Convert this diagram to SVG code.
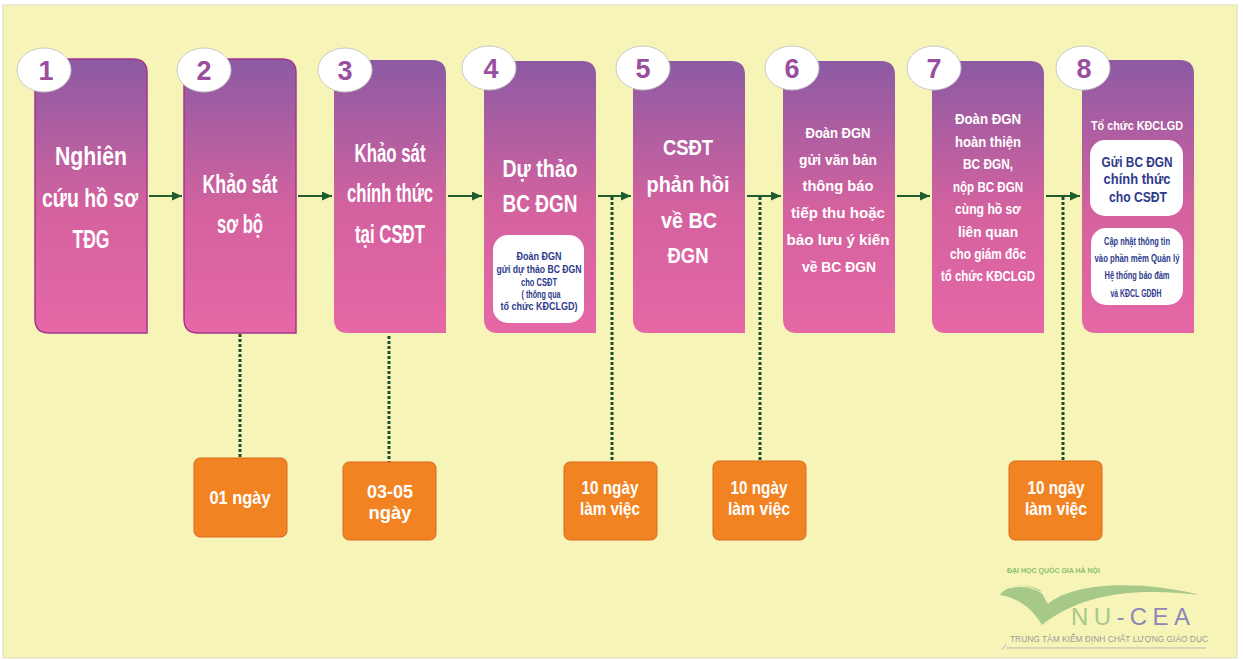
<svg xmlns="http://www.w3.org/2000/svg" width="1243" height="660" viewBox="0 0 1243 660">
<defs>
<linearGradient id="boxg" x1="0" y1="0" x2="0" y2="1">
<stop offset="0" stop-color="#8C5AA3"/>
<stop offset="0.55" stop-color="#D4629F"/>
<stop offset="1" stop-color="#E667A6"/>
</linearGradient>
<marker id="ah" viewBox="0 0 10 9" refX="10" refY="4.5" markerWidth="10" markerHeight="9" markerUnits="userSpaceOnUse" orient="auto">
<path d="M0,0 L10,4.5 L0,9 Z" fill="#1F5C2E"/>
</marker>
<style>
.box{fill:url(#boxg);}
.bord{stroke:#A3368F;stroke-width:1.5;}
.circ{fill:#fff;stroke:#C9C9C9;stroke-width:1;}
.num{font-family:"Liberation Sans",Arial,sans-serif;font-weight:bold;font-size:27px;fill:#9A4E9F;text-anchor:middle;}
.bt{font-family:"Liberation Sans",Arial,sans-serif;font-weight:bold;fill:#fff;text-anchor:middle;}
.t25{font-size:25px;}
.t22{font-size:22px;}
.t15{font-size:15.5px;}
.wbox{fill:#fff;}
.it{font-family:"Liberation Sans",Arial,sans-serif;font-weight:bold;fill:#2E3A8C;text-anchor:middle;}
.arrow{stroke:#1F5C2E;stroke-width:2;fill:none;marker-end:url(#ah);}
.dot{stroke:#1F4F2A;stroke-width:3;stroke-dasharray:3 2;fill:none;}
.ob{fill:#F28322;stroke:#D66A1F;stroke-width:1;}
.ot{font-family:"Liberation Sans",Arial,sans-serif;font-weight:bold;font-size:19px;fill:#fff;text-anchor:middle;}
</style>
</defs>
<rect x="0" y="0" width="1243" height="660" fill="#fff"/>
<rect x="3" y="5" width="1234" height="653" fill="#F7F4B8" stroke="#DEDCC0" stroke-width="1"/>

<g id="connectors">
<line class="arrow" x1="149" y1="196" x2="182" y2="196"/>
<line class="arrow" x1="298" y1="196" x2="332" y2="196"/>
<line class="arrow" x1="448" y1="196" x2="482" y2="196"/>
<line class="arrow" x1="598" y1="196" x2="631" y2="196"/>
<line class="arrow" x1="747" y1="196" x2="781" y2="196"/>
<line class="arrow" x1="897" y1="196" x2="930" y2="196"/>
<line class="arrow" x1="1046" y1="196" x2="1080" y2="196"/>
<line class="dot" x1="240" y1="334" x2="240" y2="458"/>
<line class="dot" x1="389" y1="336" x2="389" y2="462"/>
<line class="dot" x1="612" y1="197" x2="612" y2="462"/>
<line class="dot" x1="760" y1="197" x2="760" y2="461"/>
<line class="dot" x1="1063" y1="197" x2="1063" y2="461"/>
</g>

<g id="step1">
<path class="box bord" d="M35,59 H133 Q147,59 147,73 V333 H49 Q35,333 35,319 Z"/>
<ellipse class="circ" cx="44" cy="70" rx="27" ry="22"/>
<text class="num" x="46" y="80">1</text>
<text class="bt t25" x="91" y="165" textLength="72" lengthAdjust="spacingAndGlyphs">Nghiên</text>
<text class="bt t25" x="90" y="207" textLength="96" lengthAdjust="spacingAndGlyphs">cứu hồ sơ</text>
<text class="bt t25" x="91" y="248" textLength="37" lengthAdjust="spacingAndGlyphs">TĐG</text>
</g>

<g id="step2">
<path class="box bord" d="M184,59 H282 Q296,59 296,73 V333 H198 Q184,333 184,319 Z"/>
<ellipse class="circ" cx="204" cy="70" rx="27" ry="22"/>
<text class="num" x="204" y="80">2</text>
<text class="bt t25" x="240" y="193" textLength="75" lengthAdjust="spacingAndGlyphs">Khảo sát</text>
<text class="bt t25" x="240" y="233" textLength="46" lengthAdjust="spacingAndGlyphs">sơ bộ</text>
</g>

<g id="step3">
<path class="box" d="M334,60 H432 Q446,60 446,74 V333 H348 Q334,333 334,319 Z"/>
<ellipse class="circ" cx="345" cy="70" rx="27" ry="22"/>
<text class="num" x="345" y="80">3</text>
<text class="bt t25" x="390" y="162" textLength="71" lengthAdjust="spacingAndGlyphs">Khảo sát</text>
<text class="bt t25" x="390" y="202" textLength="86" lengthAdjust="spacingAndGlyphs">chính thức</text>
<text class="bt t25" x="390" y="243" textLength="70" lengthAdjust="spacingAndGlyphs">tại CSĐT</text>
</g>

<g id="step4">
<path class="box" d="M484,61 H582 Q596,61 596,75 V333 H498 Q484,333 484,319 Z"/>
<ellipse class="circ" cx="489" cy="68" rx="27" ry="22"/>
<text class="num" x="491" y="78">4</text>
<text class="bt" font-size="24" x="540" y="177" textLength="75" lengthAdjust="spacingAndGlyphs">Dự thảo</text>
<text class="bt" font-size="24" x="540" y="212" textLength="75" lengthAdjust="spacingAndGlyphs">BC ĐGN</text>
<rect class="wbox" x="493" y="235" width="91" height="88" rx="15"/>
<text class="it" font-size="11" x="539" y="260" textLength="45" lengthAdjust="spacingAndGlyphs">Đoàn ĐGN</text>
<text class="it" font-size="11" x="539" y="273" textLength="85" lengthAdjust="spacingAndGlyphs">gửi dự thảo BC ĐGN</text>
<text class="it" font-size="11" x="539" y="286" textLength="36" lengthAdjust="spacingAndGlyphs">cho CSĐT</text>
<text class="it" font-size="11" x="541" y="298" textLength="39" lengthAdjust="spacingAndGlyphs">( thông qua</text>
<text class="it" font-size="11" x="539" y="310" textLength="77" lengthAdjust="spacingAndGlyphs">tổ chức KĐCLGD)</text>
</g>

<g id="step5">
<path class="box" d="M633,61 H731 Q745,61 745,75 V333 H647 Q633,333 633,319 Z"/>
<ellipse class="circ" cx="643" cy="68" rx="27" ry="22"/>
<text class="num" x="643" y="78">5</text>
<text class="bt t22" x="688" y="155" textLength="50" lengthAdjust="spacingAndGlyphs">CSĐT</text>
<text class="bt t22" x="688" y="192" textLength="83" lengthAdjust="spacingAndGlyphs">phản hồi</text>
<text class="bt t22" x="689" y="228" textLength="56" lengthAdjust="spacingAndGlyphs">về BC</text>
<text class="bt t22" x="688" y="263" textLength="41" lengthAdjust="spacingAndGlyphs">ĐGN</text>
</g>

<g id="step6">
<path class="box" d="M783,61 H881 Q895,61 895,75 V333 H797 Q783,333 783,319 Z"/>
<ellipse class="circ" cx="792" cy="68" rx="27" ry="22"/>
<text class="num" x="792" y="78">6</text>
<text class="bt t15" x="838" y="138" textLength="65" lengthAdjust="spacingAndGlyphs">Đoàn ĐGN</text>
<text class="bt t15" x="838" y="165" textLength="78" lengthAdjust="spacingAndGlyphs">gửi văn bản</text>
<text class="bt t15" x="838" y="191" textLength="71" lengthAdjust="spacingAndGlyphs">thông báo</text>
<text class="bt t15" x="838" y="218" textLength="94" lengthAdjust="spacingAndGlyphs">tiếp thu hoặc</text>
<text class="bt t15" x="838" y="245" textLength="103" lengthAdjust="spacingAndGlyphs">bảo lưu ý kiến</text>
<text class="bt t15" x="839" y="272" textLength="74" lengthAdjust="spacingAndGlyphs">về BC ĐGN</text>
</g>

<g id="step7">
<path class="box" d="M932,61 H1030 Q1044,61 1044,75 V333 H946 Q932,333 932,319 Z"/>
<ellipse class="circ" cx="934" cy="68" rx="27" ry="22"/>
<text class="num" x="934" y="78">7</text>
<text class="bt t15" x="988" y="124" textLength="66" lengthAdjust="spacingAndGlyphs">Đoàn ĐGN</text>
<text class="bt t15" x="988" y="147" textLength="66" lengthAdjust="spacingAndGlyphs">hoàn thiện</text>
<text class="bt t15" x="988" y="169" textLength="50" lengthAdjust="spacingAndGlyphs">BC ĐGN,</text>
<text class="bt t15" x="988" y="192" textLength="70" lengthAdjust="spacingAndGlyphs">nộp BC ĐGN</text>
<text class="bt t15" x="988" y="214" textLength="66" lengthAdjust="spacingAndGlyphs">cùng hồ sơ</text>
<text class="bt t15" x="988" y="237" textLength="60" lengthAdjust="spacingAndGlyphs">liên quan</text>
<text class="bt t15" x="988" y="259" textLength="76" lengthAdjust="spacingAndGlyphs">cho giám đốc</text>
<text class="bt t15" x="988" y="281" textLength="94" lengthAdjust="spacingAndGlyphs">tổ chức KĐCLGD</text>
</g>

<g id="step8">
<path class="box" d="M1082,60 H1180 Q1194,60 1194,74 V333 H1096 Q1082,333 1082,319 Z"/>
<ellipse class="circ" cx="1083" cy="68" rx="27" ry="22"/>
<text class="num" x="1084" y="78">8</text>
<text class="bt" font-size="13" x="1137" y="130" textLength="92" lengthAdjust="spacingAndGlyphs">Tổ chức KĐCLGD</text>
<rect class="wbox" x="1090" y="140" width="93" height="76" rx="15"/>
<text class="it" font-size="15" x="1137" y="167" textLength="71" lengthAdjust="spacingAndGlyphs">Gửi BC ĐGN</text>
<text class="it" font-size="15" x="1137" y="184" textLength="67" lengthAdjust="spacingAndGlyphs">chính thức</text>
<text class="it" font-size="15" x="1138" y="202" textLength="58" lengthAdjust="spacingAndGlyphs">cho CSĐT</text>
<rect class="wbox" x="1091" y="228" width="92" height="77" rx="15"/>
<text class="it" font-size="11" x="1137" y="245" textLength="66" lengthAdjust="spacingAndGlyphs">Cập nhật thông tin</text>
<text class="it" font-size="11" x="1137" y="262" textLength="85" lengthAdjust="spacingAndGlyphs">vào phần mềm  Quản lý</text>
<text class="it" font-size="11" x="1137" y="279" textLength="65" lengthAdjust="spacingAndGlyphs">Hệ thống bảo đảm</text>
<text class="it" font-size="11" x="1136" y="297" textLength="51" lengthAdjust="spacingAndGlyphs">và KĐCL GDĐH</text>
</g>

<g id="dur1">
<rect class="ob" x="194" y="458" width="93" height="79" rx="6"/>
<text class="ot" x="240" y="504" textLength="61" lengthAdjust="spacingAndGlyphs">01 ngày</text>
</g>
<g id="dur2">
<rect class="ob" x="343" y="462" width="93" height="78" rx="6"/>
<text class="ot" x="390" y="498" textLength="46" lengthAdjust="spacingAndGlyphs">03-05</text>
<text class="ot" x="390" y="519" textLength="43" lengthAdjust="spacingAndGlyphs">ngày</text>
</g>
<g id="dur3">
<rect class="ob" x="564" y="462" width="93" height="78" rx="6"/>
<text class="ot" x="610" y="494" textLength="57" lengthAdjust="spacingAndGlyphs">10 ngày</text>
<text class="ot" x="610" y="515" textLength="60" lengthAdjust="spacingAndGlyphs">làm việc</text>
</g>
<g id="dur4">
<rect class="ob" x="713" y="461" width="93" height="79" rx="6"/>
<text class="ot" x="759" y="494" textLength="57" lengthAdjust="spacingAndGlyphs">10 ngày</text>
<text class="ot" x="759" y="515" textLength="62" lengthAdjust="spacingAndGlyphs">làm việc</text>
</g>
<g id="dur5">
<rect class="ob" x="1009" y="461" width="93" height="79" rx="6"/>
<text class="ot" x="1056" y="494" textLength="57" lengthAdjust="spacingAndGlyphs">10 ngày</text>
<text class="ot" x="1056" y="515" textLength="62" lengthAdjust="spacingAndGlyphs">làm việc</text>
</g>

<g id="logo">
<text x="1007" y="573" font-family="Liberation Sans,sans-serif" font-weight="bold" font-size="7" fill="#8CC06A" textLength="93" lengthAdjust="spacingAndGlyphs">ĐẠI HỌC QUỐC GIA HÀ NỘI</text>
<path d="M1000,595 C1005,586 1025,582 1040,590 L1048,604 C1070,585 1130,578 1200,595 C1130,587 1080,595 1042,625 C1032,608 1018,598 1000,595 Z" fill="#A6C98A"/>
<path d="M1010,588 C1022,584 1036,588 1045,595" stroke="#F7F4B8" stroke-width="1" fill="none"/>
<text x="1071" y="625" font-family="Liberation Sans,sans-serif" font-size="24" fill="#A6C98A" textLength="119" lengthAdjust="spacing">NU<tspan fill="#8E87B8">-CEA</tspan></text>
<text x="1010" y="642" font-family="Liberation Sans,sans-serif" font-size="9.5" fill="#9A9A9A" textLength="198" lengthAdjust="spacingAndGlyphs">TRUNG TÂM KIỂM ĐỊNH CHẤT LƯỢNG GIÁO DỤC</text>
<path d="M1002,650 L1006,644 M1006,648 H1206" stroke="#B5B5B5" stroke-width="1" fill="none"/>
</g>
</svg>
